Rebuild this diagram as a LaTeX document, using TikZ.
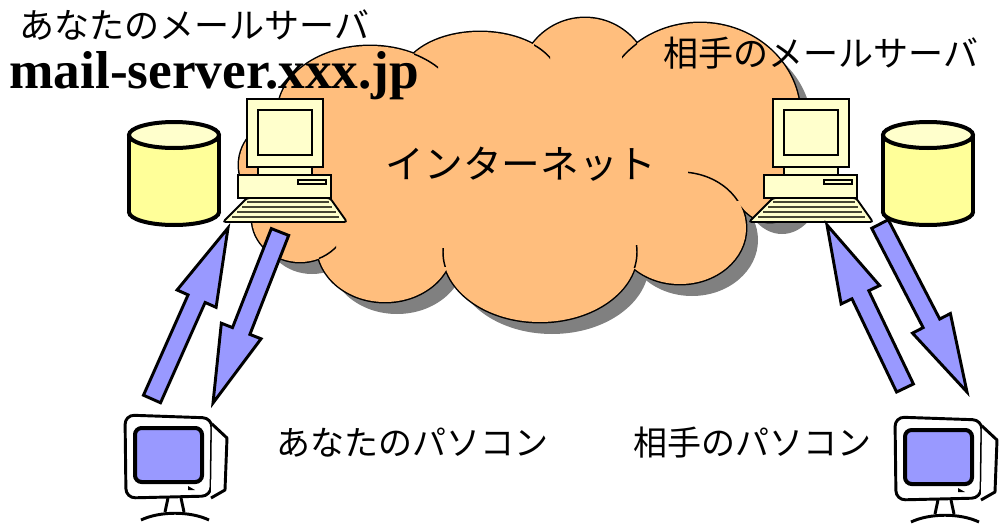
\documentclass[tikz,border=0pt]{standalone}
\usepackage{fontspec}
\setmainfont{Liberation Serif}
\newfontfamily\jpfont{Noto Sans CJK JP}
\usepackage{tikz}
\usetikzlibrary{calc,positioning}
\usepackage{xcolor}
\definecolor{cloudfill}  {RGB}{255,190,125}
\definecolor{cloudshade} {RGB}{128,128,128}
\definecolor{pccream}    {RGB}{255,255,204}
\definecolor{dbyellow}   {RGB}{255,255,153}
\definecolor{arrowblue}  {RGB}{153,153,255}
\definecolor{keydark}    {RGB}{ 70, 70, 50}

% the internet cloud as a union of bumps
\newcommand{\cloudpath}{%
  (285,165) ellipse [x radius=46,  y radius=45]
  (300,218) ellipse [x radius=48,  y radius=44]
  (385,245) ellipse [x radius=68,  y radius=57]
  (540,252) ellipse [x radius=97,  y radius=70]
  (680,228) ellipse [x radius=66,  y radius=56]
  (700,115) ellipse [x radius=100, y radius=92]
  (585,85)  ellipse [x radius=66,  y radius=67]
  (480,80)  ellipse [x radius=79,  y radius=48]
  (370,112) ellipse [x radius=92,  y radius=66]
  (520,170) ellipse [x radius=190, y radius=100]
  (770,170) ellipse [x radius=40,  y radius=52]}

% inner curl of a bump: clip box, then the bump
\newcommand{\cloudcurl}[3]{%
  \begin{scope}
    \clip #1 rectangle #2;
    \draw[curl] #3;
  \end{scope}}

% mail server computer, origin at the monitor's top left
\newcommand{\serverpc}[1]{%
  \begin{scope}[shift={#1}]
    \draw[pcpart] (0,0) rectangle (76,68);
    \draw[pcpart] (11,11) rectangle (65,56);
    \draw[pcpart] (11,68) rectangle (65,76);
    \draw[pcpart] (-9,76) rectangle (84,99);
    \draw[pcpart] (51,81) rectangle (79,85);
    \draw[pcpart, rounded corners=2pt] (0,99) -- (83,99) -- (100,123) -- (-24,123) -- cycle;
    \foreach \yy/\xl/\xr in {103/0/82, 108/-5/85, 113/-10/89, 118/-15/92}
      \draw[keyrow] (\xl,\yy) -- (\xr,\yy);
  \end{scope}}

% mailbox drum, origin at the centre of its lid
\newcommand{\dbdrum}[1]{%
  \begin{scope}[shift={#1}]
    \fill[dbyellow] (-45,0) rectangle (45,77);
    \fill[dbyellow] (0,77) ellipse [x radius=45, y radius=13];
    \draw[drum] (-45,0) -- (-45,77) (45,0) -- (45,77);
    \begin{scope}
      \clip (-50,77) rectangle (50,96);
      \draw[drum] (0,77) ellipse [x radius=45, y radius=13];
    \end{scope}
    \draw[drum, fill=pccream] (0,0) ellipse [x radius=45, y radius=13];
  \end{scope}}

% desktop monitor, origin at the screen's top left
\newcommand{\clientpc}[1]{%
  \begin{scope}[shift={#1}]
    \draw[bezel, rounded corners=7pt] (-10,-13) -- (77,-10) -- (76,68) -- (-9,70) -- cycle;
    \draw[bezel, line join=round] (77,-4) -- (92,10) -- (90,62) -- (76,70);
    \draw[screenedge, rounded corners=5pt] (0,0) rectangle (67,54);
    \fill (53,58) -- (60,62) -- (53,62) -- cycle;
    \draw[bezel] (33,70) -- (30,84) (46,70) -- (49,84);
    \draw[bezel] (6,92) .. controls (25,83) and (55,83) .. (74,92);
  \end{scope}}

% fat two-tone arrow from #1 to #2
\newcommand{\blockarrow}[2]{%
  \coordinate (hb) at ($(#2)!58pt!(#1)$);
  \filldraw[blockarr]
    ($(#1)!7pt!90:(#2)$) -- ($(hb)!7pt!90:(#2)$) -- ($(hb)!16pt!90:(#2)$)
    -- (#2)
    -- ($(hb)!16pt!-90:(#2)$) -- ($(hb)!7pt!-90:(#2)$) -- ($(#1)!7pt!-90:(#2)$) -- cycle;}

\begin{document}
\begin{tikzpicture}[
    x=0.75pt, y=-0.75pt,
    curl/.style={draw=black, line width=1.1pt},
    pcpart/.style={draw=black, fill=pccream, line width=1.4pt},
    keyrow/.style={draw=keydark, line width=1.6pt},
    drum/.style={draw=black, line width=3pt},
    bezel/.style={draw=black, fill=white, line width=2.2pt},
    screenedge/.style={draw=black, fill=arrowblue, line width=3pt},
    blockarr/.style={draw=black, fill=arrowblue, line width=2.2pt, line join=miter},
    jplabel/.style={inner sep=0pt, font=\jpfont\fontsize{25.5}{26}\selectfont},
    srvtext/.style={jplabel, font=\jpfont\fontsize{26.3}{27}\selectfont},
    hostname/.style={inner sep=0pt, font=\bfseries\fontsize{40}{41}\selectfont}
]
    \useasboundingbox (0,0) rectangle (1001,525);

    % cloud: shadow, outline, body, curls
    \fill[cloudshade, shift={(12,12)}] \cloudpath;
    \draw[black, line width=2.2pt] \cloudpath;
    \fill[cloudfill] \cloudpath;
    \cloudcurl{(319,245)}{(336,262)}{(300,218) ellipse [x radius=48, y radius=44]}
    \cloudcurl{(440,248)}{(452,266)}{(540,252) ellipse [x radius=97, y radius=70]}
    \cloudcurl{(625,245)}{(645,267)}{(540,252) ellipse [x radius=97, y radius=70]}
    \cloudcurl{(688,160)}{(740,200)}{(680,228) ellipse [x radius=66, y radius=56]}
    \cloudcurl{(622,40)}{(637,60)}{(700,115) ellipse [x radius=100, y radius=92]}
    \cloudcurl{(534,40)}{(550,60)}{(480,80) ellipse [x radius=79, y radius=48]}
    \cloudcurl{(414,50)}{(438,70)}{(370,112) ellipse [x radius=92, y radius=66]}

    % servers and their mailboxes
    \serverpc{(247,99)}
    \serverpc{(773,99)}
    \dbdrum{(174,135)}
    \dbdrum{(928,135)}

    % personal computers
    \clientpc{(135,428)}
    \clientpc{(905,430)}

    % sending and receiving
    \coordinate (upA)  at (152,399);  \coordinate (upB)  at (228,228);
    \coordinate (dnA)  at (280,232);  \coordinate (dnB)  at (213,403);
    \coordinate (rupA) at (905,388);  \coordinate (rupB) at (827,225);
    \coordinate (rdnA) at (880,224);  \coordinate (rdnB) at (967,392);
    \blockarrow{upA}{upB}
    \blockarrow{dnA}{dnB}
    \blockarrow{rupA}{rupB}
    \blockarrow{rdnA}{rdnB}

    % labels
    \node[srvtext, anchor=west] (srvlabel) at (19,25) {あなたのメールサーバ};
    \node[hostname, anchor=base west] (hostlabel) at (9,88) {mail-server.xxx.jp};
    \node[srvtext, anchor=west] (remotelabel) at (663,53) {相手のメールサーバ};
    \node[jplabel, font=\jpfont\fontsize{29}{30}\selectfont] (netlabel) at (521,164) {インターネット};
    \node[jplabel, anchor=west] (mypclabel) at (276,443) {あなたのパソコン};
    \node[jplabel, anchor=west] (theirpclabel) at (633,443) {相手のパソコン};
\end{tikzpicture}
\end{document}
